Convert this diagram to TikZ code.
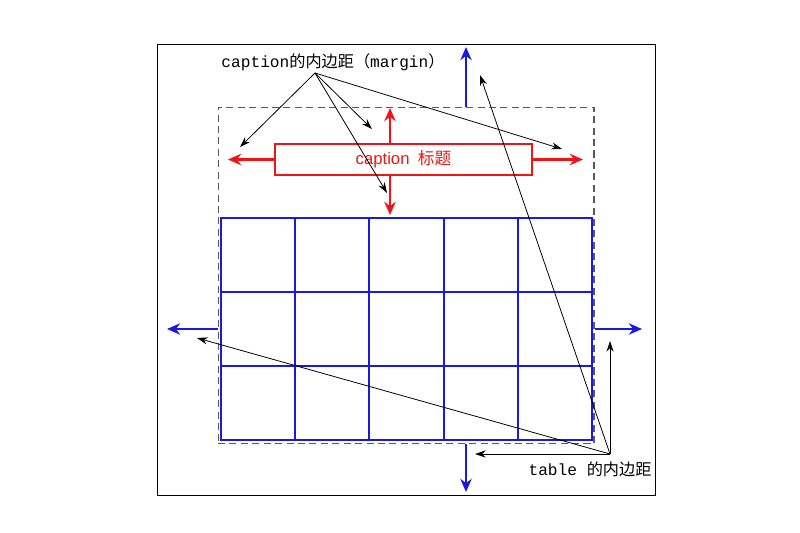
\documentclass[tikz,border=0pt]{standalone}
\usepackage{fontspec}
\setmonofont{Liberation Mono}
\setsansfont{Liberation Sans}
\newfontfamily\cjk{Noto Sans CJK SC}
\usetikzlibrary{arrows.meta, calc}
\definecolor{capred}{RGB}{240,20,20}
\definecolor{tblblue}{RGB}{25,25,225}

\begin{document}
\begin{tikzpicture}[
    x=0.02cm, y=-0.02cm,
    frame/.style={draw=black, line width=0.55pt, minimum width=9.98cm, minimum height=9.04cm},
    padbox/.style={draw=black!65, dash pattern=on 4pt off 2.5pt, line width=0.6pt, minimum width=7.52cm, minimum height=6.74cm},
    capbox/.style={draw=capred, line width=1pt, minimum width=5.14cm, minimum height=0.62cm,
                   text=capred, font=\sffamily\fontsize{9.5}{11}\selectfont},
    tblbox/.style={draw=tblblue, line width=1pt, minimum width=7.42cm, minimum height=4.44cm},
    tblline/.style={draw=tblblue, line width=1pt},
    note/.style={font=\ttfamily\fontsize{9.2}{11}\selectfont, inner sep=1pt},
    marginarrow/.style={->, line width=1.2pt, >={Stealth[length=7.5pt, width=6.5pt]}},
    pointer/.style={->, line width=0.45pt, >={Stealth[length=6pt, width=4pt]}}
]
   \useasboundingbox (0,0) rectangle (800,533);

   % Boxes
   \node[frame] (frame) at (406.5,270) {};
   \node[padbox] (pad) at (406,275.5) {};
   \node[tblbox] (tbl) at (406.5,329) {};
   \node[capbox] (cap) at (403.5,159.5) {caption\hspace{0.5em}{\cjk 标题}};

   % Table cells
   \foreach \i in {1,...,4}
      \draw[tblline] ($(tbl.north west)!\i/5!(tbl.north east)$) -- ($(tbl.south west)!\i/5!(tbl.south east)$);
   \foreach \i in {1,2}
      \draw[tblline] ($(tbl.north west)!\i/3!(tbl.south west)$) -- ($(tbl.north east)!\i/3!(tbl.south east)$);

   % Ends of the margin arrows
   \coordinate (mtop) at (466,47);
   \coordinate (mbot) at (466,492);
   \coordinate (mleft) at (167,329);
   \coordinate (mright) at (642,329);
   \coordinate (ptop) at (390,108);
   \coordinate (pbot) at (390,215);
   \coordinate (pleft) at (228,159.5);
   \coordinate (pright) at (583,159.5);

   % Table margins
   \draw[marginarrow, tblblue] (pad.north -| mtop) -- (mtop);
   \draw[marginarrow, tblblue] (pad.south -| mbot) -- (mbot);
   \draw[marginarrow, tblblue] (pad.west |- mleft) -- (mleft);
   \draw[marginarrow, tblblue] (pad.east |- mright) -- (mright);

   % Caption margins
   \draw[marginarrow, capred] (cap.north -| ptop) -- (ptop);
   \draw[marginarrow, capred] (cap.south -| pbot) -- (pbot);
   \draw[marginarrow, capred] (cap.west) -- (pleft);
   \draw[marginarrow, capred] (cap.east) -- (pright);

   % Labels
   \node[note] (caplbl) at (333,62) {caption{\cjk 的内边距（}margin{\cjk ）}};
   \node[note] (tbllbl) at (590,469) {table {\cjk 的内边距}};
   \coordinate (capfrom) at (315,73);
   \coordinate (tblfrom) at (610,454);

   % Pointers from the caption label
   \coordinate (c1) at (240,147);
   \coordinate (c2) at (372,129);
   \coordinate (c3) at (387,193);
   \coordinate (c4) at (562,149);
   \draw[pointer] (capfrom) -- (c1);
   \draw[pointer] (capfrom) -- (c2);
   \draw[pointer] (capfrom) -- (c3);
   \draw[pointer] (capfrom) -- (c4);

   % Pointers from the table label
   \coordinate (t1) at (480,75);
   \coordinate (t2) at (610,341);
   \coordinate (t3) at (475,454);
   \coordinate (t4) at (197,338);
   \draw[pointer] (tblfrom) -- (t1);
   \draw[pointer] (tblfrom) -- (t2);
   \draw[pointer] (tblfrom) -- (t3);
   \draw[pointer] (tblfrom) -- (t4);
\end{tikzpicture}
\end{document}
